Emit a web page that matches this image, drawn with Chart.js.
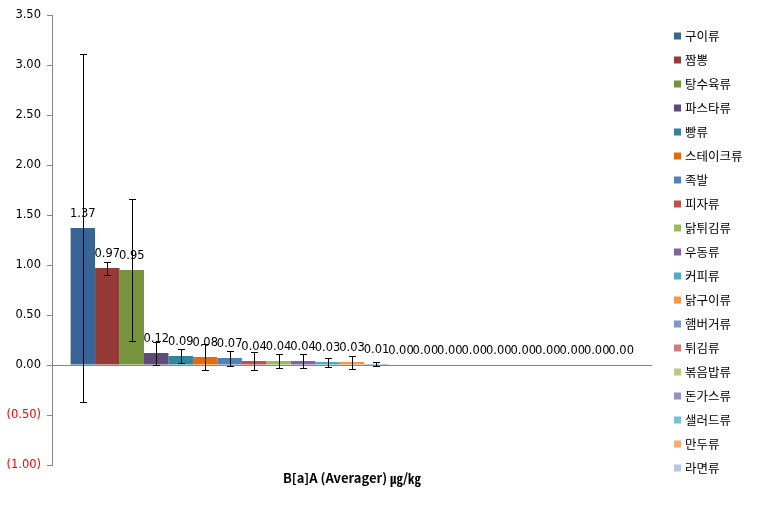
<!DOCTYPE html>
<html><head><meta charset="utf-8">
<script src="https://cdn.jsdelivr.net/npm/chart.js@4/dist/chart.umd.min.js"></script>
<style>html,body{margin:0;padding:0;background:#fff}#wrap{width:764px;height:507px;position:relative}</style>
</head><body><div id="wrap"><canvas id="c" width="764" height="507"></canvas></div>
<script>
const categories = [''];
const seriesNames = ['구이류','짬뽕','탕수육류','파스타류','빵류','스테이크류','족발','피자류','닭튀김류','우동류','커피류','닭구이류','햄버거류','튀김류','볶음밥류','돈가스류','샐러드류','만두류','라면류','계열20','계열21','계열22','계열23'];
const seriesValues = [1.37,0.97,0.95,0.12,0.09,0.08,0.07,0.04,0.04,0.04,0.03,0.03,0.01,0,0,0,0,0,0,0,0,0,0];
const errorValues = [1.74,0.065,0.71,0.115,0.07,0.13,0.075,0.087,0.07,0.07,0.045,0.065,0.02,0,0,0,0,0,0,0,0,0,0];
const seriesColors = ['#3B6496','#953A38','#77933C','#5F4A7C','#31859C','#E46C0A','#4F81BD','#C0504D','#9BBB59','#8064A2','#4BACC6','#F79646','#7E98CF','#D07C7A','#B3CB83','#9D8BB9','#78BFD4','#F9AB73','#B8C6E4','#E3A9A8','#CDDDAC','#C4B8D6','#A8D5E2'];
const legendCount = 19;
const yMin = -1, yMax = 3.5, yStep = 0.5;
const xTitle = 'B[a]A (Averager) ㎍/㎏';

const fmt = v => v < 0 ? '(' + Math.abs(v).toFixed(2) + ')' : v.toFixed(2);

const overlay = {
  id: 'overlay',
  afterDatasetsDraw(chart) {
    const ctx = chart.ctx, ys = chart.scales.y;
    ctx.save();
    ctx.strokeStyle = '#000'; ctx.lineWidth = 1;
    chart.data.datasets.forEach((ds, i) => {
      const e = errorValues[i];
      if (!e) return;
      const bar = chart.getDatasetMeta(i).data[0];
      const x = Math.round(bar.x) + 0.5;
      const v = seriesValues[i];
      const t = Math.round(ys.getPixelForValue(v + e)) + 0.5;
      const b = Math.round(ys.getPixelForValue(v - e)) + 0.5;
      ctx.beginPath();
      ctx.moveTo(x, t); ctx.lineTo(x, b);
      ctx.moveTo(x - 3.5, t); ctx.lineTo(x + 3.5, t);
      ctx.moveTo(x - 3.5, b); ctx.lineTo(x + 3.5, b);
      ctx.stroke();
    });
    ctx.fillStyle = '#000';
    ctx.font = '11.5px "DejaVu Sans"';
    ctx.textAlign = 'center'; ctx.textBaseline = 'middle';
    chart.data.datasets.forEach((ds, i) => {
      const bar = chart.getDatasetMeta(i).data[0];
      const y = ys.getPixelForValue(seriesValues[i]) - 13.5;
      ctx.fillText(seriesValues[i].toFixed(2), bar.x, y);
    });
    ctx.restore();
  },
  afterDraw(chart) {
    const ctx = chart.ctx;
    ctx.save();
    ctx.font = '12.5px "Noto Sans CJK KR"';
    ctx.textAlign = 'left'; ctx.textBaseline = 'middle';
    for (let i = 0; i < legendCount; i++) {
      const yc = 36 + i * 24;
      ctx.fillStyle = seriesColors[i];
      ctx.fillRect(674, yc - 3.5, 7, 7);
      ctx.fillStyle = '#000';
      ctx.fillText(seriesNames[i], 685, yc);
    }
    ctx.restore();
  }
};

new Chart(document.getElementById('c'), {
  type: 'bar',
  data: {
    labels: categories,
    datasets: seriesNames.map((n, i) => ({
      label: n,
      data: [seriesValues[i]],
      backgroundColor: seriesColors[i],
      borderWidth: 0,
      categoryPercentage: 0.938,
      barPercentage: 1
    }))
  },
  options: {
    responsive: false,
    animation: false,
    devicePixelRatio: 1,
    layout: { padding: { top: 15, left: 0, right: 112, bottom: 0 } },
    plugins: { legend: { display: false }, tooltip: { enabled: false } },
    scales: {
      x: {
        grid: { display: false },
        border: { display: false },
        ticks: { display: false },
        title: { display: true, text: xTitle, color: '#000', font: { family: 'Noto Sans CJK KR', size: 13, weight: 'bold' }, padding: { top: 4, bottom: 21 } },
        afterFit: s => { s.height = 42; }
      },
      y: {
        min: yMin, max: yMax,
        ticks: {
          stepSize: yStep,
          padding: 6,
          font: { family: 'DejaVu Sans', size: 11.5 },
          color: c => c.tick.value < -1e-9 ? '#FF0000' : '#000',
          callback: v => fmt(v)
        },
        grid: {
          color: c => (c.tick && Math.abs(c.tick.value) < 1e-9) ? '#868686' : 'rgba(0,0,0,0)',
          tickColor: '#868686',
          tickLength: 5
        },
        border: { display: true, color: '#868686' },
        afterFit: s => { s.width = 52; }
      }
    }
  },
  plugins: [overlay]
});
</script>
</body></html>
